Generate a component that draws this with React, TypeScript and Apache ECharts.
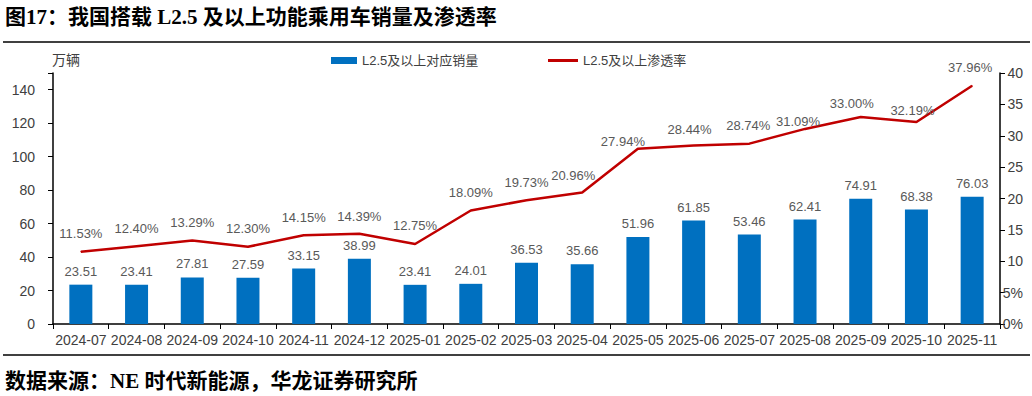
import React, { useEffect, useRef } from "react";
import * as echarts from "echarts";

const categories = [
  "2024-07", "2024-08", "2024-09", "2024-10", "2024-11", "2024-12",
  "2025-01", "2025-02", "2025-03", "2025-04", "2025-05", "2025-06",
  "2025-07", "2025-08", "2025-09", "2025-10", "2025-11",
];
const salesValues = [
  23.51, 23.41, 27.81, 27.59, 33.15, 38.99, 23.41, 24.01, 36.53, 35.66,
  51.96, 61.85, 53.46, 62.41, 74.91, 68.38, 76.03,
];
const rateValues = [
  11.53, 12.4, 13.29, 12.3, 14.15, 14.39, 12.75, 18.09, 19.73, 20.96,
  27.94, 28.44, 28.74, 31.09, 33.0, 32.19, 37.96,
];
const leftTicks = [0, 20, 40, 60, 80, 100, 120, 140];
const rightTicks = [0, 5, 10, 15, 20, 25, 30, 35, 40];

// label nudges (style only)
const rateLabelOffsets: [number, number][] = [
  [0, 0], [0, 0], [0, 0], [0, 0], [0, 0], [0, 1], [0, 0], [0, 0], [0, 0], [-9, 1],
  [-15, 11], [-4, 2], [-1, 0], [-7, 11], [-9, 5], [-4, 6], [-2, 0],
];

const SANS = "'Liberation Sans', 'Noto Sans CJK SC', sans-serif";
const TITLE_FONT = "'Liberation Serif', 'Noto Sans CJK SC', serif";

export default function App() {
  const ref = useRef<HTMLDivElement>(null);
  useEffect(() => {
    document.body.style.margin = "0";
    if (!ref.current) return;
    const chart = echarts.init(ref.current, undefined, { renderer: "svg" });
    const option: any = {
      animation: false,
      backgroundColor: "#ffffff",
      textStyle: { fontFamily: SANS },
      grid: { left: 53, right: 32, top: 73, bottom: 72, containLabel: false },
      legend: [
        {
          data: [{ name: "L2.5及以上对应销量", icon: "rect" }],
          left: 331,
          top: 54,
          padding: 0,
          itemWidth: 26,
          itemHeight: 7,
          itemGap: 4,
          textStyle: { fontSize: 13, color: "#404040", fontFamily: SANS },
        },
        {
          data: [{ name: "L2.5及以上渗透率", icon: "rect" }],
          left: 548,
          top: 54,
          padding: 0,
          itemWidth: 30,
          itemHeight: 3,
          textStyle: { fontSize: 13, color: "#404040", fontFamily: SANS },
        },
      ],
      xAxis: {
        type: "category",
        data: categories,
        boundaryGap: true,
        axisLine: { lineStyle: { color: "#000", width: 1.5 } },
        axisTick: { show: true, alignWithLabel: false, length: 5, lineStyle: { color: "#000" } },
        axisLabel: { interval: 0, fontSize: 14, color: "#404040", margin: 9, fontFamily: SANS },
      },
      yAxis: [
        {
          type: "value",
          min: 0,
          max: 150,
          interval: 20,
          position: "left",
          splitLine: { show: false },
          axisLine: { show: true, lineStyle: { color: "#000", width: 1.5 } },
          axisTick: { show: true, length: 5, lineStyle: { color: "#000" } },
          axisLabel: {
            fontSize: 14,
            color: "#404040",
            margin: 18,
            formatter: (v: number) => (leftTicks.includes(v) ? String(v) : ""),
          },
        },
        {
          type: "value",
          min: 0,
          max: 40,
          interval: 5,
          position: "right",
          splitLine: { show: false },
          axisLine: { show: true, lineStyle: { color: "#000", width: 1.5 } },
          axisTick: { show: true, length: 5, lineStyle: { color: "#000" } },
          axisLabel: {
            fontSize: 14,
            color: "#404040",
            margin: 23,
            align: "right",
            formatter: (v: number) =>
              rightTicks.includes(v) ? (v <= 5 ? v + "%" : String(v)) : "",
          },
        },
      ],
      series: [
        {
          name: "L2.5及以上对应销量",
          type: "bar",
          yAxisIndex: 0,
          data: salesValues,
          barWidth: 23,
          itemStyle: { color: "#0070C0" },
          label: {
            show: true,
            position: "top",
            distance: 7,
            fontSize: 13,
            color: "#595959",
            fontFamily: SANS,
            formatter: (p: any) => Number(p.value).toFixed(2),
          },
        },
        {
          name: "L2.5及以上渗透率",
          type: "line",
          yAxisIndex: 1,
          data: rateValues.map((v, i) => ({
            value: v,
            label: { offset: rateLabelOffsets[i] },
          })),
          symbol: "circle",
          symbolSize: 1,
          showSymbol: true,
          itemStyle: { color: "#C00000" },
          lineStyle: { color: "#C00000", width: 2.5 },
          label: {
            show: true,
            position: "top",
            distance: 11,
            fontSize: 13,
            color: "#595959",
            fontFamily: SANS,
            formatter: (p: any) => Number(p.value).toFixed(2) + "%",
          },
        },
      ],
      graphic: [
        {
          type: "text",
          left: 5,
          top: 6,
          style: {
            text: "图17：我国搭载 L2.5 及以上功能乘用车销量及渗透率",
            font: `bold 21px ${TITLE_FONT}`,
            fill: "#000",
          },
        },
        {
          type: "line",
          shape: { x1: 3, y1: 42, x2: 1030, y2: 42 },
          style: { stroke: "#000", lineWidth: 1.5 },
        },
        {
          type: "text",
          left: 52,
          top: 53,
          style: { text: "万辆", font: `14px ${SANS}`, fill: "#404040" },
        },
        {
          type: "line",
          shape: { x1: 3, y1: 355, x2: 1030, y2: 355 },
          style: { stroke: "#000", lineWidth: 1.5 },
        },
        {
          type: "text",
          left: 5,
          top: 370,
          style: {
            text: "数据来源：NE 时代新能源，华龙证券研究所",
            font: `bold 21px ${TITLE_FONT}`,
            fill: "#000",
          },
        },
      ],
    };
    chart.setOption(option);
    return () => chart.dispose();
  }, []);
  return <div ref={ref} style={{ width: 1032, height: 396 }} />;
}
